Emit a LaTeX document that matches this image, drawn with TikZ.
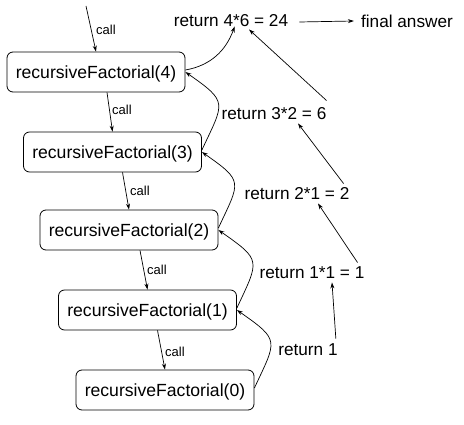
\documentclass[tikz,border=0pt]{standalone}
\usepackage{fontspec}
\setmainfont{Liberation Sans}
\usetikzlibrary{arrows.meta,calc}
\begin{document}
\begin{tikzpicture}[x=1pt,y=-1pt,
  fbox/.style={draw,rounded corners=6pt,minimum width=178pt,minimum height=40pt,line width=0.8pt,font=\fontsize{17.6}{19}\selectfont,inner sep=0pt,text height=12.5pt,text depth=0pt},
  lbl/.style={font=\fontsize{17.2}{19}\selectfont,inner sep=1pt,text height=12.5pt,text depth=0pt},
  calllbl/.style={font=\fontsize{13}{14}\selectfont,inner sep=1pt,text height=9.5pt,text depth=0pt},
  arr/.style={line width=0.7pt,-{Stealth[length=6pt,width=4pt]}},
  ret/.style={arr,looseness=1.7}]
\useasboundingbox (0,0) rectangle (464,425);
\node[fbox] (b4) at (96,72) {recursiveFactorial(4)};
\node[fbox] (b3) at (112.5,152) {recursiveFactorial(3)};
\node[fbox] (b2) at (129,230) {recursiveFactorial(2)};
\node[fbox] (b1) at (147.5,310) {recursiveFactorial(1)};
\node[fbox] (b0) at (165,390) {recursiveFactorial(0)};
\coordinate (top) at (86,6);
\node[calllbl] (c4) at (106,30) {call};
\node[calllbl] (c3) at (122,110) {call};
\node[calllbl] (c2) at (140,191) {call};
\node[calllbl] (c1) at (157,270) {call};
\node[calllbl] (c0) at (175,352) {call};
\node[lbl] (r4) at (231,20) {return 4*6 = 24};
\node[lbl] (fa) at (407,21) {final answer};
\node[lbl] (r3) at (274,113) {return 3*2 = 6};
\node[lbl] (r2) at (297,193) {return 2*1 = 2};
\node[lbl] (r1) at (312,272) {return 1*1 = 1};
\node[lbl] (r0) at (308,349) {return 1};
% calls
\draw[arr] (top) -- (b4.north);
\draw[arr] ($(b4.south)+(11,0)$) -- (b3.north);
\draw[arr] ($(b3.south)+(10,0)$) -- (b2.north);
\draw[arr] ($(b2.south)+(11,0)$) -- (b1.north);
\draw[arr] ($(b1.south)+(10,0)$) -- (b0.north);
% returns (curves)
\draw[ret] ($(b0.east)+(0,-2)$) to[out=65,in=-35] (b1.east);
\draw[ret] ($(b1.east)+(0,-2)$) to[out=65,in=-35] (b2.east);
\draw[ret] ($(b2.east)+(0,-2)$) to[out=65,in=-35] (b3.east);
\draw[ret] ($(b3.east)+(0,-2)$) to[out=65,in=-35] (b4.east);
\draw[arr] ($(b4.east)+(0,-2)$) to[out=10,in=-110] ($(r4.south west)+(62,-1)$);
% return chain
\draw[arr] ($(r0.north east)+(-3,-3)$) -- ($(r1.south)+(20,3)$);
\draw[arr] ($(r1.north east)+(-8,-2)$) -- ($(r2.south)+(21,3)$);
\draw[arr] ($(r2.north east)+(-7,-2)$) -- ($(r3.south)+(24,3)$);
\draw[arr] ($(r3.north east)+(-1,-5)$) -- ($(r4.south)+(18,2)$);
\draw[arr] ($(r4.east)+(10,2)$) -- ($(fa.west)+(-6,0)$);
\end{tikzpicture}
\end{document}
